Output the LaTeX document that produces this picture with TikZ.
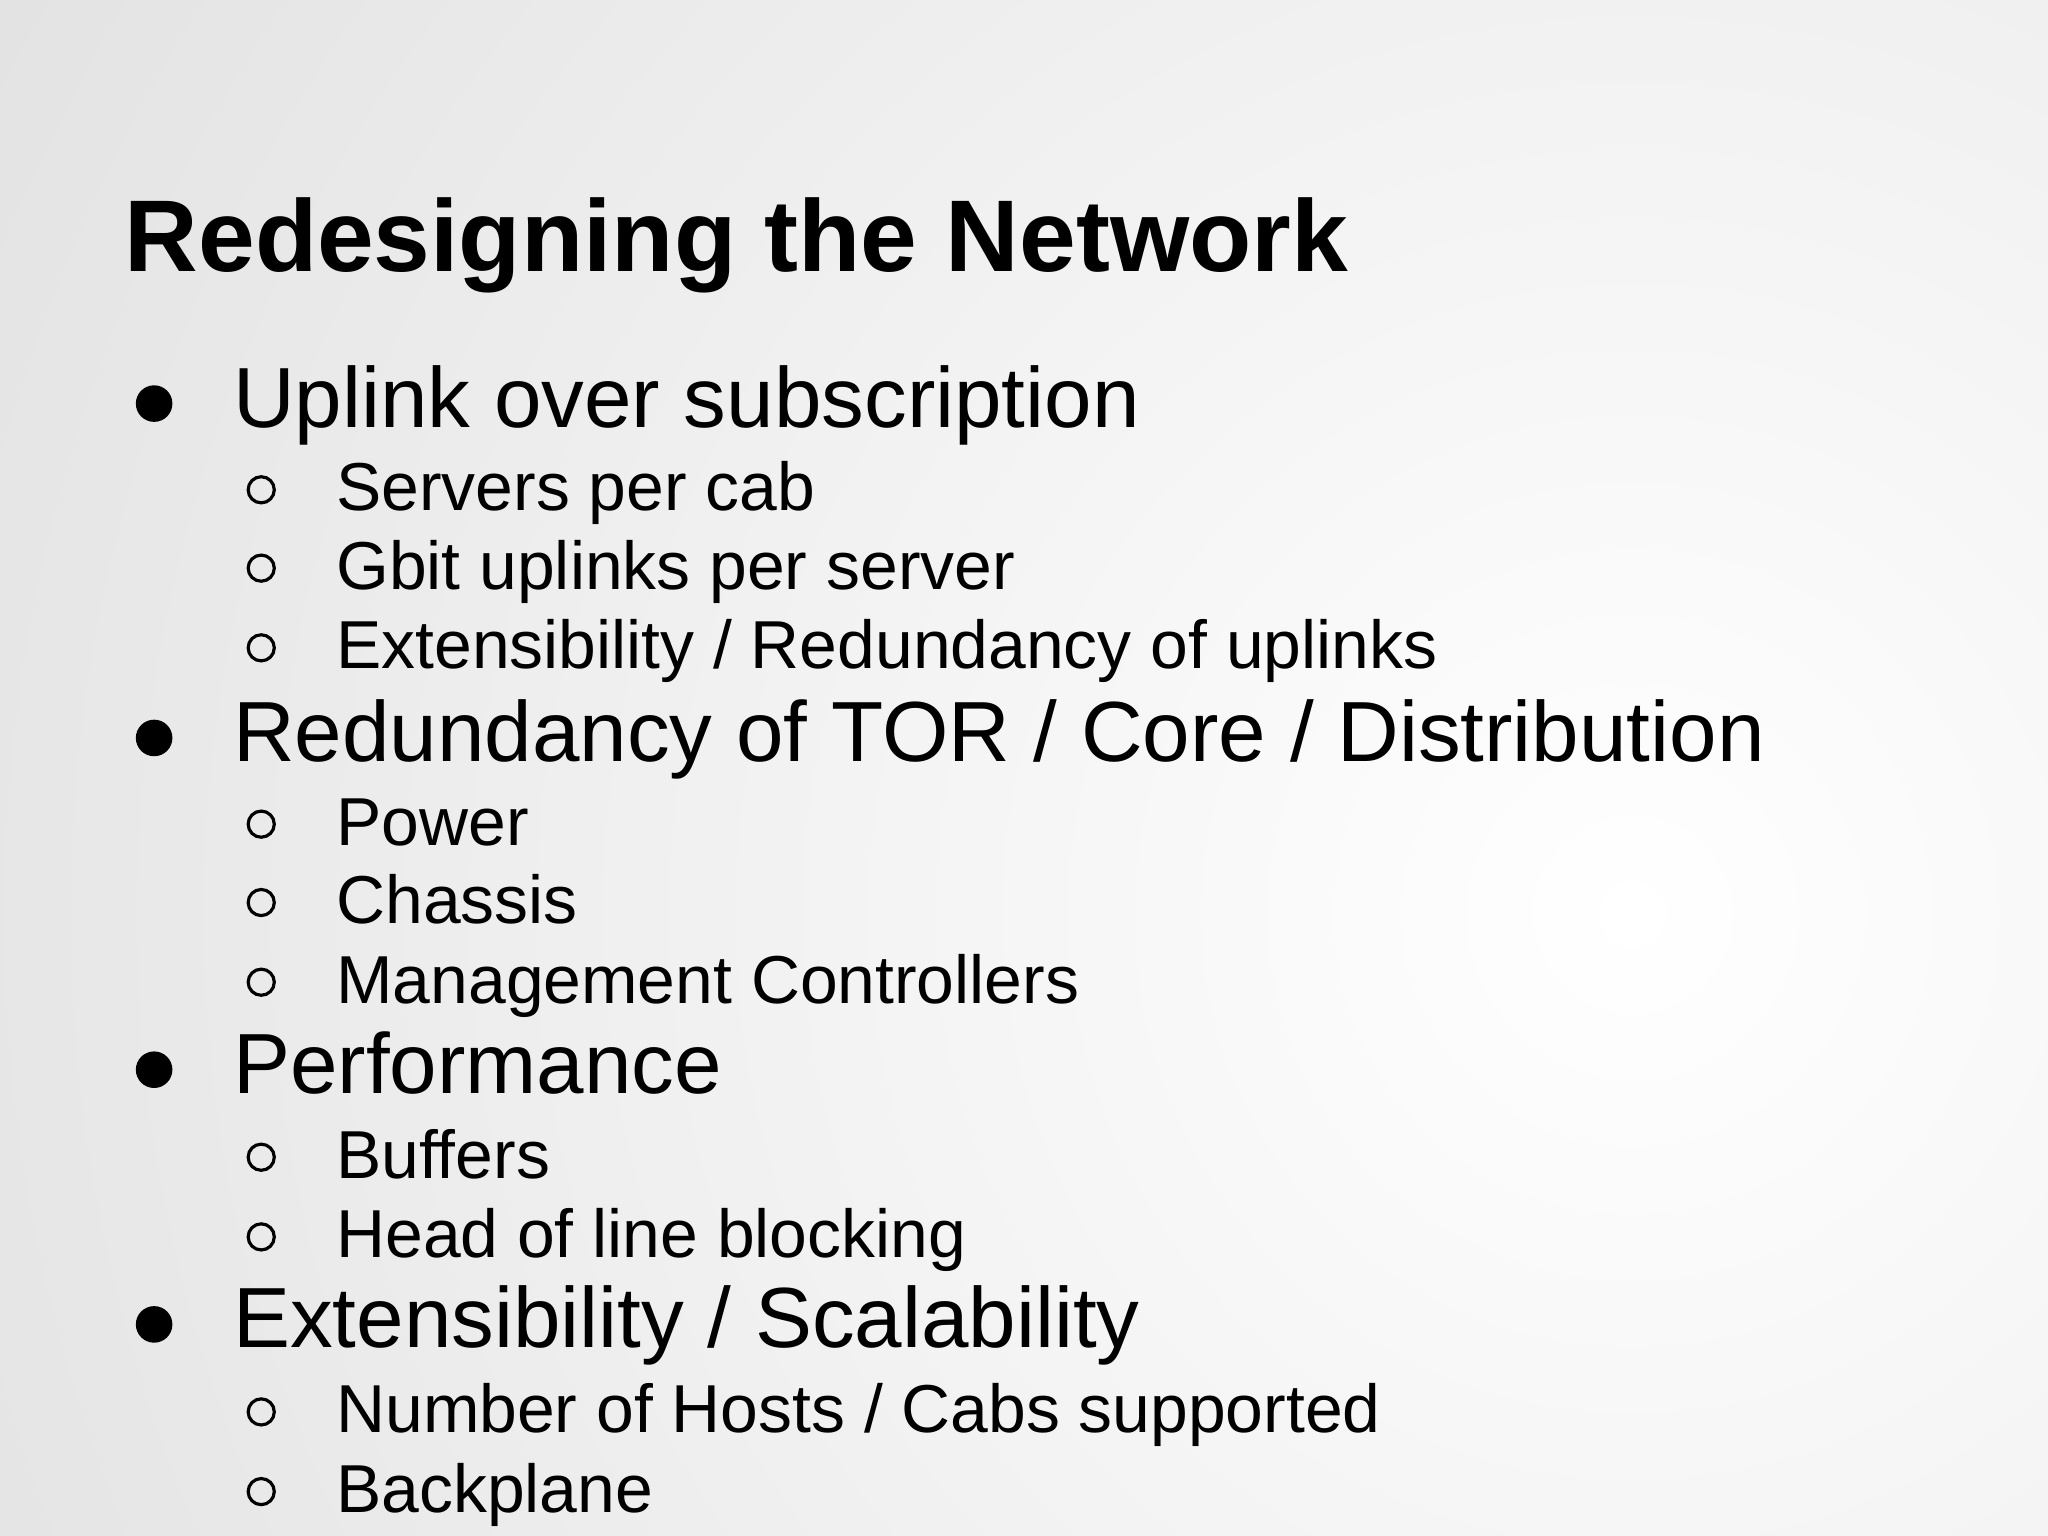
\documentclass[tikz,border=0pt]{standalone}
\usepackage{fontspec}
\setmainfont{Liberation Sans}
\definecolor{bgray}{RGB}{200,200,200}
\begin{document}
\begin{tikzpicture}[x=0.01306cm,y=-0.01306cm,
  lone/.style={anchor=base west,inner sep=0pt,font=\fontsize{24.3pt}{28pt}\selectfont},
  ltwo/.style={anchor=base west,inner sep=0pt,font=\fontsize{19.3pt}{23pt}\selectfont},
  dotb/.style={fill=black},
  ringb/.style={draw=black,line width=0.9pt}]
\useasboundingbox (0,0) rectangle (1568,1176);
\clip (0,0) rectangle (1568,1176);
\fill[bgray] (0,0) rectangle (1568,1176);
\shade[inner color=white,outer color=bgray] (1250,700) circle (2800);
\node[anchor=base west,inner sep=0pt,font=\fontsize{29pt}{34pt}\selectfont\bfseries] (title) at (95,208) {Redesigning the Network};
\foreach \n/\y/\t in {a/327/{Uplink over subscription}, b/583/{Redundancy of TOR / Core / Distribution}, c/837/{Performance}, d/1032/{Extensibility / Scalability}}{
  \node[lone] (\n) at (178,\y) {\t};
  \fill[dotb] (118,\y-18) circle (14);
}
\foreach \n/\y/\t in {a1/391/{Servers per cab}, a2/451/{Gbit uplinks per server}, a3/512/{Extensibility / Redundancy of uplinks}, b1/647/{Power}, b2/707/{Chassis}, b3/768/{Management Controllers}, c1/902/{Buffers}, c2/963/{Head of line blocking}, d1/1097/{Number of Hosts / Cabs supported}, d2/1158/{Backplane}}{
  \node[ltwo] (\n) at (257,\y) {\t};
  \draw[ringb] (200,\y-16) circle (10);
}
\end{tikzpicture}
\end{document}
